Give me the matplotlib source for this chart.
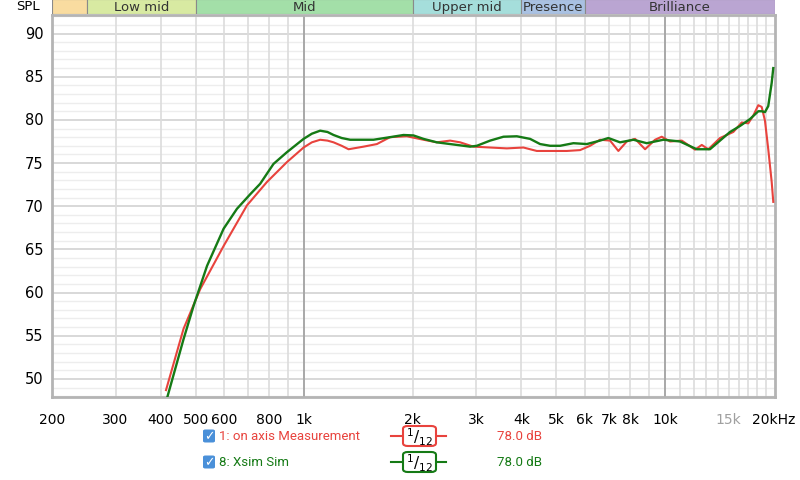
import matplotlib
matplotlib.use("Agg")
import matplotlib.pyplot as plt
from matplotlib.patches import Rectangle, FancyBboxPatch

meas_freq = [414, 463, 515, 598, 694, 788, 895, 996, 1050, 1107, 1160, 1206,
             1270, 1327, 1460, 1590, 1730, 1925, 2141, 2331, 2537, 2705, 2944,
             3275, 3644, 4051, 4412, 4802, 5343, 5815, 6198, 6605, 7041, 7424,
             7833, 8260, 8803, 9383, 9792, 10320, 11130, 12110, 12640, 13180,
             14200, 15460, 16310, 17010, 17560, 18130, 18530, 18920, 19320,
             19750, 19950]
meas_spl = [48.7, 55.8, 60.4, 65.4, 70.1, 72.8, 75.1, 76.8, 77.4, 77.7, 77.6,
            77.4, 77.0, 76.6, 76.9, 77.2, 78.0, 78.1, 77.7, 77.4, 77.6, 77.4,
            76.9, 76.8, 76.7, 76.8, 76.4, 76.4, 76.4, 76.5, 77.0, 77.7, 77.6,
            76.4, 77.5, 77.8, 76.6, 77.7, 78.05, 77.5, 77.6, 76.55, 77.1, 76.6,
            77.9, 78.6, 79.7, 79.6, 80.5, 81.7, 81.5, 79.9, 76.6, 72.8, 70.5]

sim_freq = [415, 463, 494, 538, 598, 651, 709, 755, 822, 895, 996, 1050, 1107,
            1160, 1206, 1270, 1341, 1556, 1730, 1884, 2008, 2141, 2331, 2648,
            2883, 3009, 3275, 3566, 3884, 4227, 4505, 4802, 5119, 5572, 6069,
            6605, 6965, 7505, 8171, 8898, 9893, 11000, 12240, 13320, 14200,
            15140, 16140, 17200, 18130, 18530, 18920, 19320, 19750, 19950]
sim_spl = [47.5, 54.6, 58.5, 63.1, 67.4, 69.7, 71.4, 72.6, 74.9, 76.25, 77.8,
           78.4, 78.75, 78.6, 78.25, 77.9, 77.7, 77.7, 78.0, 78.25, 78.2, 77.8,
           77.4, 77.1, 76.9, 77.0, 77.6, 78.05, 78.1, 77.8, 77.2, 77.0, 77.0,
           77.3, 77.2, 77.6, 77.9, 77.4, 77.7, 77.3, 77.7, 77.5, 76.6, 76.6,
           77.6, 78.6, 79.3, 80.1, 81.0, 81.0, 80.9, 81.6, 84.3, 86.0]

# frequency bands in the header strip
band_edges = [200, 250, 500, 2000, 4000, 6000, 20170]
band_names = ["", "Low mid", "Mid", "Upper mid", "Presence", "Brilliance"]
band_colors = ["#f9dca0", "#d8eaa2", "#a3dfa8", "#a5dedb", "#a9c1e2", "#baa5d2"]

xtick_vals = [200, 300, 400, 500, 600, 800, 1000, 2000, 3000, 4000, 5000,
              6000, 7000, 8000, 10000, 15000, 20000]
xtick_text = ["200", "300", "400", "500", "600", "800", "1k", "2k", "3k", "4k",
              "5k", "6k", "7k", "8k", "10k", "15k", "20kHz"]
ytick_vals = [50, 55, 60, 65, 70, 75, 80, 85, 90]

red = "#e8433d"
green = "#157a15"
narrow = ["Roboto", "DejaVu Sans"]

W, H = 800, 481
fig = plt.figure(figsize=(8, 4.81), dpi=100)
fig.patch.set_facecolor("white")

x0, x1, y_top, y_bot = 52, 775, 16, 398
ax = fig.add_axes([x0 / W, 1 - y_bot / H, (x1 - x0) / W, (y_bot - y_top) / H])
ax.set_xscale("log")
ax.set_xlim(200, 20170)
ax.set_ylim(47.9, 92.15)

# grid lines
for v in range(48, 93):
    c = "#d6d6d6" if v % 5 == 0 else "#ededed"
    ax.axhline(v, color=c, lw=1.3 if v % 5 == 0 else 1.0, zorder=0)
grid_f = [300, 400, 500, 600, 700, 800, 900] + \
    [k * 1000 for k in range(2, 10)] + [k * 1000 for k in range(11, 20)]
for f in grid_f:
    ax.axvline(f, color="#dcdcdc", lw=1.2, zorder=0)
for f in [1000, 10000]:
    ax.axvline(f, color="#a8a8a8", lw=1.4, zorder=0)

ax.plot(meas_freq, meas_spl, color=red, lw=1.5, zorder=3)
ax.plot(sim_freq, sim_spl, color=green, lw=1.7, zorder=4)

for s in ax.spines.values():
    s.set_color("#b4b4b4")
    s.set_linewidth(2)
ax.set_xticks([])
ax.set_yticks([])
ax.minorticks_off()

# tick labels
for f, t in zip(xtick_vals, xtick_text):
    col = "#a0a0a0" if t == "15k" else "black"
    ax.text(f, -0.04, t, transform=ax.get_xaxis_transform(), ha="center",
            va="top", fontsize=10, color=col)
for v in ytick_vals:
    ax.text(-0.012, v, str(v), transform=ax.get_yaxis_transform(), ha="right",
            va="center", fontsize=10.5)

# band header strip
hdr = fig.add_axes([x0 / W, 1 - 15 / H, (x1 - x0) / W, 15 / H])
hdr.set_xscale("log")
hdr.set_xlim(200, 20170)
hdr.set_ylim(0, 1)
hdr.axis("off")
for i in range(len(band_names)):
    a, b = band_edges[i], band_edges[i + 1]
    hdr.add_patch(Rectangle((a, 0), b - a, 1, facecolor=band_colors[i],
                            edgecolor="#8a8a8a", lw=0.8))
    if band_names[i]:
        hdr.text((a * b) ** 0.5, 0.5, band_names[i], ha="center", va="center",
                 fontsize=9.5, color="#333333")
fig.text(28 / W, 1 - 7 / H, "SPL", ha="center", va="center", fontsize=9.5)

# legend rows
rows = [("1: on axis Measurement", red, 437), ("8: Xsim Sim", green, 463)]
for label, col, yp in rows:
    yf = 1 - yp / H
    fig.patches.append(FancyBboxPatch((203 / W, yf - 6.5 / H), 12 / W, 13 / H,
                                      boxstyle="round,pad=0,rounding_size=0.003",
                                      transform=fig.transFigure,
                                      facecolor="#4a90d9", edgecolor="none"))
    fig.text(209 / W, yf, "\u2713", ha="center", va="center", fontsize=9,
             color="white", fontweight="bold")
    fig.text(219 / W, yf, label, ha="left", va="center", fontsize=9.5,
             color=col, family=narrow)
    fig.lines.append(plt.Line2D([391 / W, 446 / W], [yf, yf], color=col,
                                lw=1.5, transform=fig.transFigure))
    fig.patches.append(FancyBboxPatch((403 / W, yf - 10 / H), 33 / W, 20 / H,
                                      boxstyle="round,pad=0,rounding_size=0.006",
                                      transform=fig.transFigure,
                                      facecolor="white", edgecolor=col, lw=1.5,
                                      zorder=5))
    fig.text(419.5 / W, yf, r"$^{1}/_{12}$", ha="center", va="center",
             fontsize=11, color="black", zorder=6)
    fig.text(497 / W, yf, "78.0 dB", ha="left", va="center", fontsize=9.5,
             color=col, family=narrow)

fig.savefig("out.png", dpi=100, facecolor="white")
